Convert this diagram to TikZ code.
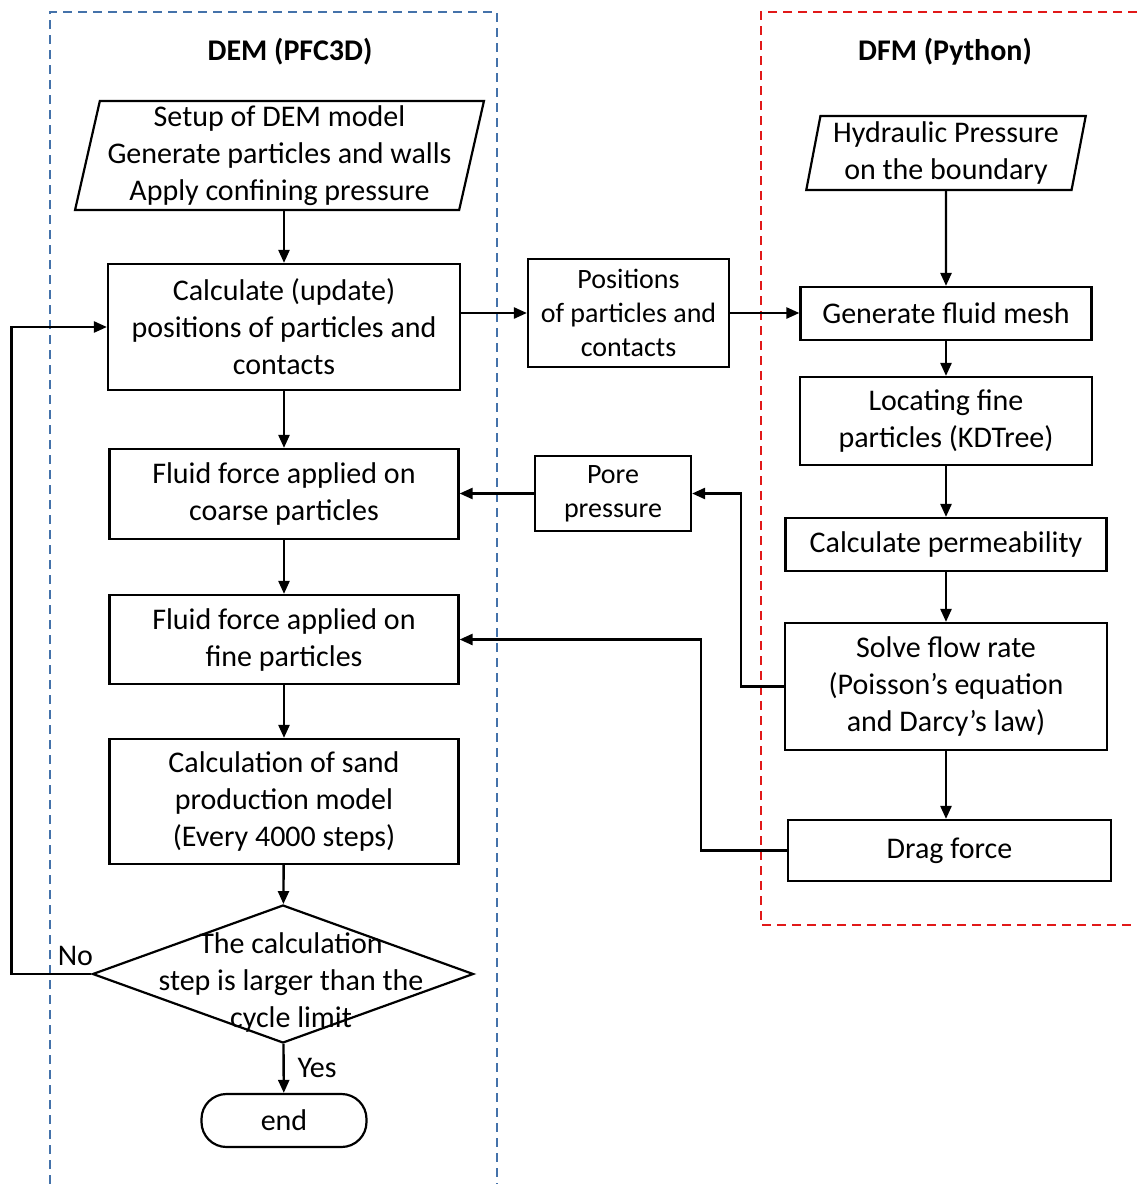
\documentclass[tikz,border=0pt]{standalone}
\usepackage{fontspec}
\setmainfont{Carlito}
\usetikzlibrary{arrows.meta,shapes.geometric}
\definecolor{demblue}{RGB}{68,114,170}
\definecolor{dfmred}{RGB}{225,25,25}

\begin{document}
\begin{tikzpicture}[x=0.5pt,y=-0.5pt,
		font=\fontsize{15}{18.5}\selectfont,
		>={Triangle[length=6.5pt,width=5.5pt]}]
	\useasboundingbox (0,0) rectangle (1137,1184);
	% the two code frames
	\draw[demblue,line width=0.8pt,dash pattern=on 4.5pt off 3pt] (50,1184) -- (50,12) -- (497,12) -- (497,1184);
	\draw[dfmred,line width=0.8pt,dash pattern=on 4.5pt off 3pt] (1137,12) -- (761,12) -- (761,925) -- (1137,925);
	\node[font=\fontsize{15}{18.5}\selectfont\bfseries] (demtitle) at (290,52) {DEM (PFC3D)};
	\node[font=\fontsize{15}{18.5}\selectfont\bfseries] (dfmtitle) at (945,52) {DFM (Python)};

	\begin{scope}[every node/.style={draw,line width=1.1pt,align=center,inner sep=1pt}]
		% DEM side
		\node[trapezium,trapezium stretches=true,trapezium left angle=77,trapezium right angle=103,
			minimum width=204.5pt,minimum height=54.5pt] (setup) at (279.5,155.5)
			{Setup of DEM model\\Generate particles and walls\\Apply confining pressure};
		\node[minimum width=176pt,minimum height=63pt] (calc) at (284,327)
			{Calculate (update)\\positions of particles and\\contacts};
		\node[minimum width=174.5pt,minimum height=45pt] (coarse) at (284,494)
			{Fluid force applied on\\coarse particles};
		\node[minimum width=174.5pt,minimum height=44.5pt] (fine) at (284,639.5)
			{Fluid force applied on\\fine particles};
		\node[minimum width=174.5pt,minimum height=62.5pt] (sand) at (284,801.5)
			{Calculation of sand\\production model\\(Every 4000 steps)};
		\node[diamond,minimum width=190.5pt,minimum height=69pt] (check) at (283,974) {};
		\node[rounded corners=12.5pt,minimum width=82.5pt,minimum height=26.5pt] (end) at (284,1120.5) {end};
		% exchanged data
		\node[font=\fontsize{14}{17}\selectfont,minimum width=100.5pt,minimum height=54pt] (positions) at (628.5,313)
			{Positions\\of particles and\\contacts};
		\node[font=\fontsize{14}{17}\selectfont,minimum width=78pt,minimum height=37.5pt] (pore) at (613,493.5)
			{Pore\\pressure};
		% DFM side
		\node[trapezium,trapezium stretches=true,trapezium left angle=79,trapezium right angle=101,
			minimum width=140pt,minimum height=37pt] (hydraulic) at (946,153)
			{Hydraulic Pressure\\on the boundary};
		\node[minimum width=145.5pt,minimum height=26.5pt] (mesh) at (946,313.5) {Generate fluid mesh};
		\node[minimum width=146pt,minimum height=44pt] (locate) at (946,421)
			{Locating fine\\particles (KDTree)};
		\node[minimum width=160.5pt,minimum height=26.5pt] (perm) at (946,544.5) {Calculate permeability};
		\node[minimum width=161pt,minimum height=63.5pt] (solve) at (946,686.5)
			{Solve flow rate\\(Poisson’s equation\\and Darcy’s law)};
		\node[minimum width=161.5pt,minimum height=30.5pt] (drag) at (949.5,850.5) {Drag force};
	\end{scope}
	\node[align=center] (checktext) at (291,982)
		{The calculation\\step is larger than the\\cycle limit};

	\begin{scope}[every edge/.style={draw,line width=1.2pt}]
		\path [->] (calc.north |- setup.south) edge (calc);
		\path [->] (calc) edge (coarse);
		\path [->] (coarse) edge (fine);
		\path [->] (fine) edge (sand);
		\path [->] (sand) edge (check);
		\path [->] (check) edge node[right=3pt] {Yes} (end);
		\path [->] (calc.east |- positions.west) edge (positions);
		\path [->] (positions) edge (positions -| mesh.west);
		\path [->] (hydraulic) edge (hydraulic.south |- mesh.north);
		\path [->] (mesh) edge (locate);
		\path [->] (locate) edge (perm);
		\path [->] (perm) edge (solve);
		\path [->] (solve.south) edge (solve.south |- drag.north);
		\path [->] (pore) edge (pore -| coarse.east);
	\end{scope}
	\draw[->,line width=1.2pt] (check.west) -- node[pos=0.2,above] {No} ++(-80,0) |- (calc.west);
	\draw[->,line width=1.2pt] (solve.west) -- ++(-43,0) |- (pore.east);
	\draw[->,line width=1.2pt] (drag.west) -- ++(-86,0) |- (fine.east);
\end{tikzpicture}
\end{document}
